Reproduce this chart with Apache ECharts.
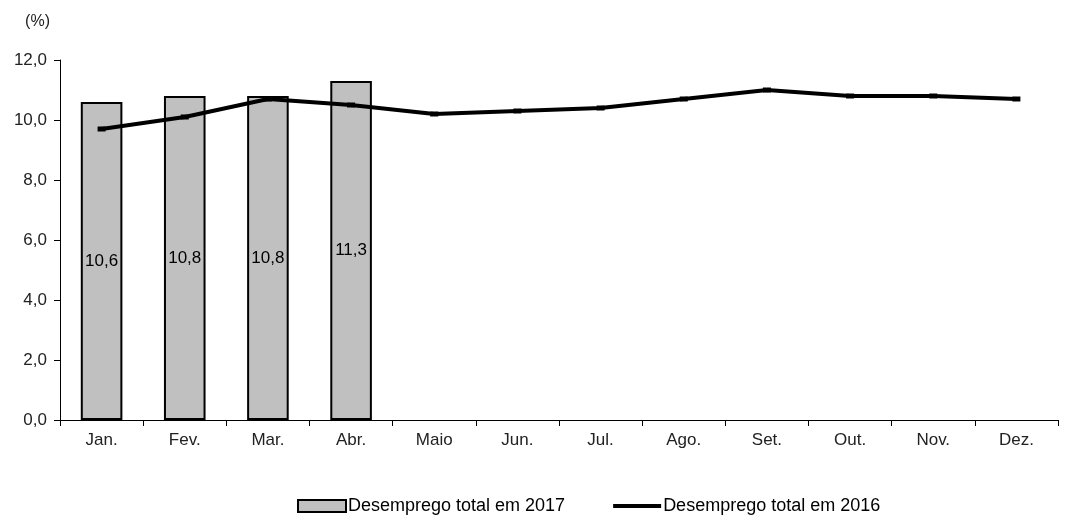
<!DOCTYPE html>
<html>
<head>
<meta charset="utf-8">
<script src="https://cdn.jsdelivr.net/npm/echarts@6/dist/echarts.min.js"></script>
<style>
  html, body { margin: 0; padding: 0; background: #fff; }
  #chart { width: 1067px; height: 521px; }
</style>
</head>
<body>
<div id="chart"></div>
<script>
const months = ['Jan.', 'Fev.', 'Mar.', 'Abr.', 'Maio', 'Jun.', 'Jul.', 'Ago.', 'Set.', 'Out.', 'Nov.', 'Dez.']
const desemprego2017 = [10.6, 10.8, 10.8, 11.3, null, null, null, null, null, null, null, null]
const desemprego2016 = [9.7, 10.1, 10.7, 10.5, 10.2, 10.3, 10.4, 10.7, 11.0, 10.8, 10.8, 10.7]

const fmt = (v) => v.toFixed(1).replace('.', ',')
const font = 'Liberation Sans, Arial, sans-serif'

const chart = echarts.init(document.getElementById('chart'))
chart.setOption({
  animation: false,
  grid: { left: 60, right: 9, top: 60, bottom: 101 },
  legend: {
    bottom: 1,
    left: 292,
    itemGap: 48,
    itemWidth: 48,
    itemHeight: 12,
    textStyle: { fontFamily: font, fontSize: 18, color: '#000', padding: [0, 0, 0, -3] },
    data: [
      { name: 'Desemprego total em 2017', icon: 'rect' },
      { name: 'Desemprego total em 2016', icon: 'path://M0 0 H48 V4 H0 Z', itemStyle: { color: '#000' } }
    ]
  },
  xAxis: {
    type: 'category',
    data: months,
    axisLine: { lineStyle: { color: '#000', width: 1 } },
    axisTick: { show: true, length: 6, lineStyle: { color: '#000' } },
    axisLabel: { fontFamily: font, fontSize: 17, color: '#222', margin: 12 }
  },
  yAxis: {
    type: 'value',
    min: 0,
    max: 12,
    interval: 2,
    name: '(%)',
    nameLocation: 'end',
    nameGap: 30,
    nameTextStyle: { fontFamily: font, fontSize: 16, color: '#222', align: 'right', padding: [0, 10, 0, 0] },
    splitLine: { show: false },
    axisLine: { show: true, lineStyle: { color: '#000' } },
    axisTick: { show: true, length: 6, lineStyle: { color: '#000' } },
    axisLabel: { fontFamily: font, fontSize: 17, color: '#222', margin: 13, formatter: fmt }
  },
  series: [
    {
      name: 'Desemprego total em 2017',
      type: 'bar',
      data: desemprego2017,
      barWidth: '50%',
      itemStyle: { color: '#c0c0c0', borderColor: '#000', borderWidth: 2 },
      label: {
        show: true,
        position: 'inside',
        fontFamily: font,
        fontSize: 17,
        color: '#000',
        formatter: (p) => fmt(p.value)
      }
    },
    {
      name: 'Desemprego total em 2016',
      type: 'line',
      data: desemprego2016,
      symbol: 'rect',
      symbolSize: [8, 5],
      itemStyle: { color: '#000' },
      lineStyle: { color: '#000', width: 4 }
    }
  ]
})
</script>
</body>
</html>
